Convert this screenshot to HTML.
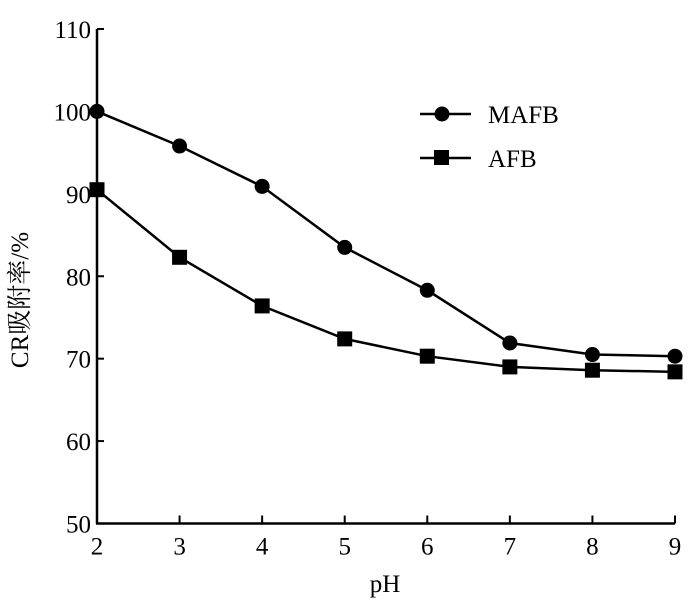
<!DOCTYPE html>
<html><head><meta charset="utf-8"><style>
body{margin:0;background:#fff}
svg text{font-family:"Liberation Serif","Noto Serif CJK SC",serif;fill:#000}
</style></head><body>
<svg id="chart" width="700" height="601" viewBox="0 0 700 601" xmlns="http://www.w3.org/2000/svg">
<g id="axes"></g><g id="series"></g>
<g>
 <g>
  <line x1="420" y1="114" x2="471" y2="114" stroke="#000" stroke-width="2.5"/>
  <circle cx="442" cy="114" r="7.5" fill="#000"/>
  <text x="488" y="123" font-size="25">MAFB</text>
 </g>
 <g>
  <line x1="420" y1="158" x2="471" y2="158" stroke="#000" stroke-width="2.5"/>
  <rect x="434" y="150" width="15" height="15" fill="#000"/>
  <text x="488" y="167" font-size="25">AFB</text>
 </g>
</g>
<text x="385" y="592" font-size="25" text-anchor="middle">pH</text>
<text transform="translate(28,300) rotate(-90)" font-size="25" text-anchor="middle">CR吸附率/%</text>
</svg>
<script>
const xCategories=[2,3,4,5,6,7,8,9];
const mafbValues=[100,95.8,90.9,83.5,78.3,71.9,70.5,70.3];
const afbValues=[90.5,82.3,76.4,72.4,70.3,69,68.6,68.4];
const yTicks=[50,60,70,80,90,100,110];
const xTicks=[2,3,4,5,6,7,8,9];
const NS="http://www.w3.org/2000/svg";
const X0=97,X1=675,Y0=523.5,Y1=29;
const xs=v=>X0+(v-2)/(9-2)*(X1-X0);
const ys=v=>Y0-(v-50)/(110-50)*(Y0-Y1);
function mk(t,a,p){const e=document.createElementNS(NS,t);for(const k in a)e.setAttribute(k,a[k]);p.appendChild(e);return e;}
const ax=document.getElementById('axes');
const yl=mk('line',{x1:X0,y1:Y1,x2:X0,y2:Y0,stroke:'#000','stroke-width':2.5},ax);


const xl=mk('line',{x1:X0-1,y1:Y0,x2:X1,y2:Y0,stroke:'#000','stroke-width':2.5},ax);


yTicks.forEach(v=>{const y=ys(v);
 mk('line',{x1:X0,y1:y,x2:X0+7,y2:y,stroke:'#000','stroke-width':2},ax);
 const t=mk('text',{x:X0-6,y:y+9,'font-size':25,'text-anchor':'end'},ax);t.textContent=v;
 
 });
xTicks.forEach(v=>{const x=xs(v);
 mk('line',{x1:x,y1:Y0,x2:x,y2:Y0-8,stroke:'#000','stroke-width':2},ax);
 const t=mk('text',{x:x,y:Y0+31,'font-size':25,'text-anchor':'middle'},ax);t.textContent=v;
 
 });
const sg=document.getElementById('series');
function series(vals,shape,name){
 const g=mk('g',{},sg);
 
 
 mk('polyline',{points:vals.map((v,i)=>xs(xCategories[i])+','+ys(v)).join(' '),fill:'none',stroke:'#000','stroke-width':2.5},g);
 vals.forEach((v,i)=>{const x=xs(xCategories[i]),y=ys(v);let m;
  if(shape==='c')m=mk('circle',{cx:x,cy:y,r:7.5,fill:'#000'},g);
  else m=mk('rect',{x:x-7.5,y:y-7.5,width:15,height:15,fill:'#000'},g);
  
  });
}
series(mafbValues,'c','mafb-series');
series(afbValues,'s','afb-series');
</script>
</body></html>
